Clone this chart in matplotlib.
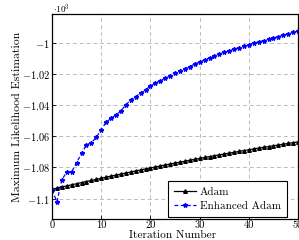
import numpy as np
import matplotlib
matplotlib.use("Agg")
import matplotlib.pyplot as plt
from matplotlib.ticker import FuncFormatter

plt.rcParams["font.family"] = "serif"
plt.rcParams["font.serif"] = ["cmr10", "DejaVu Serif"]
plt.rcParams["mathtext.fontset"] = "cm"
plt.rcParams["axes.formatter.use_mathtext"] = True
plt.rcParams["axes.unicode_minus"] = False

# values in units of 10^3
iterations = np.arange(51)
adam = [
    -1.0940, -1.0932, -1.0925, -1.0918, -1.0911, -1.0904, -1.0897, -1.0890,
    -1.0883, -1.0876, -1.0869, -1.0862, -1.0855, -1.0849, -1.0842, -1.0835,
    -1.0829, -1.0822, -1.0816, -1.0809, -1.0803, -1.0797, -1.0790, -1.0784,
    -1.0778, -1.0772, -1.0766, -1.0760, -1.0754, -1.0748, -1.0742, -1.0736,
    -1.0731, -1.0725, -1.0719, -1.0714, -1.0708, -1.0703, -1.0697, -1.0692,
    -1.0687, -1.0681, -1.0676, -1.0671, -1.0666, -1.0661, -1.0656, -1.0651,
    -1.0646, -1.0641, -1.0636,
]
enhanced_adam = [
    -1.0944, -1.1019, -1.0880, -1.0827, -1.0827, -1.0769, -1.0709, -1.0656,
    -1.0641, -1.0607, -1.0558, -1.0510, -1.0485, -1.0463, -1.0438, -1.0399,
    -1.0367, -1.0346, -1.0324, -1.0303, -1.0278, -1.0260, -1.0244, -1.0228,
    -1.0213, -1.0192, -1.0180, -1.0167, -1.0154, -1.0137, -1.0126, -1.0111,
    -1.0098, -1.0085, -1.0074, -1.0063, -1.0053, -1.0042, -1.0032, -1.0021,
    -1.0013, -1.0004, -0.9996, -0.9987, -0.9978, -0.9970, -0.9962, -0.9953,
    -0.9944, -0.9933, -0.9925,
]
x_ticks = [0, 10, 20, 30, 40, 50]
y_ticks = [-1.1, -1.08, -1.06, -1.04, -1.02, -1.0]

fig = plt.figure(figsize=(2.99, 2.40), dpi=100)
ax = fig.add_axes([0.174, 0.0875, 0.823, 0.855])

ax.plot(iterations, adam, color="black", lw=0.9, marker="^", ms=2.6,
        label="Adam")
ax.plot(iterations, enhanced_adam, color="blue", lw=0.9, ls=(0, (3, 2)),
        marker="*", ms=3.2, label="Enhanced Adam")

ax.set_xlim(0, 50)
ax.set_ylim(-1.113, -0.9816)
ax.set_xticks(x_ticks)
ax.set_yticks(y_ticks)
ax.xaxis.set_major_formatter(FuncFormatter(lambda v, p: f"{v:g}"))
ax.yaxis.set_major_formatter(FuncFormatter(lambda v, p: f"${v:g}$"))
ax.tick_params(direction="in", length=3, width=0.6, labelsize=7.5, pad=1.5)
ax.tick_params(axis="x", pad=1)
ax.grid(True, color="#bbbbbb", ls=(0, (4, 3)), lw=0.7)
for s in ax.spines.values():
    s.set_linewidth(0.9)

ax.set_xlabel("Iteration Number", fontsize=8.2)
ax.xaxis.set_label_coords(0.49, -0.058)
ax.set_ylabel("Maximum Likelihood Estimation", fontsize=8.5)
ax.yaxis.set_label_coords(-0.12, 0.5)
fig.text(0.178, 0.99, r"$\cdot 10^3$", fontsize=6.5, ha="left", va="top")

leg = ax.legend(loc="lower right", bbox_to_anchor=(0.960, 0.096),
                bbox_transform=fig.transFigure, fontsize=8, frameon=True,
                fancybox=False, edgecolor="black", framealpha=1,
                borderaxespad=0, handlelength=2.0, handletextpad=0.3,
                borderpad=0.55, labelspacing=0.4)
leg.get_frame().set_linewidth(0.8)

fig.savefig("out.png", dpi=100)
